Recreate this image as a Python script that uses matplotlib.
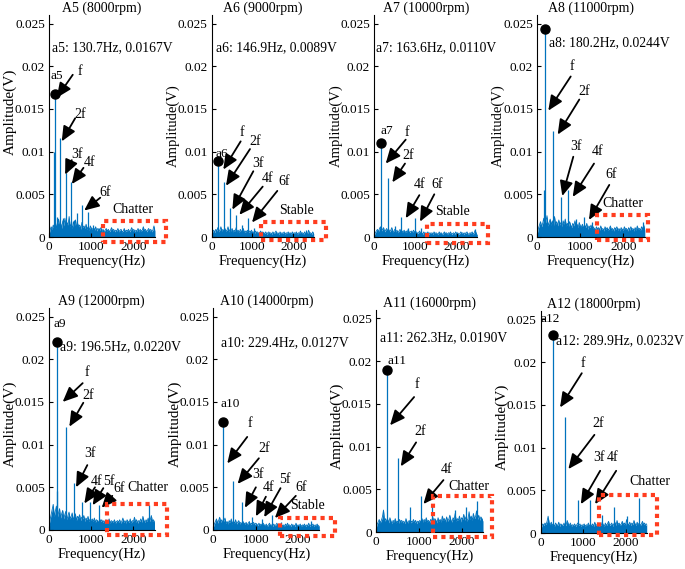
import numpy as np
import matplotlib.pyplot as plt
from matplotlib.patches import Rectangle

plt.rcParams['font.family'] = ['Liberation Serif', 'DejaVu Serif']

BLUE = '#0072BD'
RED = '#FF3D1F'

# panel titles, tooth passing peak and cutting state
titles = ['A5 (8000rpm)', 'A6 (9000rpm)', 'A7 (10000rpm)', 'A8 (11000rpm)',
          'A9 (12000rpm)', 'A10 (14000rpm)', 'A11 (16000rpm)', 'A12 (18000rpm)']
tags = ['a5', 'a6', 'a7', 'a8', 'a9', 'a10', 'a11', 'a12']
peak_hz = [130.7, 146.9, 163.6, 180.2, 196.5, 229.4, 262.3, 289.9]
peak_v = [0.0167, 0.0089, 0.0110, 0.0244, 0.0220, 0.0127, 0.0190, 0.0232]
states = ['Chatter', 'Stable', 'Stable', 'Chatter',
          'Chatter', 'Stable', 'Chatter', 'Chatter']

# other spectral lines (Hz, V)
lines_a5 = [(118, 0.0100), (261, 0.0116), (392, 0.0075), (523, 0.0065), (654, 0.0028),
            (784, 0.0037), (915, 0.0029), (200, 0.0024), (330, 0.0022), (590, 0.0020),
            (1046, 0.0014), (1177, 0.0011)]
lines_a6 = [(294, 0.0065), (441, 0.0034), (588, 0.0026), (735, 0.0014), (881, 0.0022),
            (1028, 0.0010), (2300, 0.0008)]
lines_a7 = [(327, 0.0069), (491, 0.0013), (654, 0.0024), (818, 0.0011), (981, 0.0022),
            (1145, 0.0010), (2454, 0.0009)]
lines_a8 = [(160, 0.0055), (360, 0.0124), (541, 0.0047), (721, 0.0055), (901, 0.0021),
            (1081, 0.0023), (1261, 0.0018), (2450, 0.0017)]
lines_a9 = [(180, 0.0046), (393, 0.0121), (590, 0.0055), (786, 0.0033), (982, 0.0033),
            (1179, 0.0029), (2358, 0.0029)]
lines_a10 = [(459, 0.0057), (688, 0.0033), (918, 0.0015), (1147, 0.0013), (1376, 0.0018),
             (1606, 0.0009), (2294, 0.0010)]
lines_a11 = [(524.6, 0.0087), (787, 0.0030), (1049, 0.0042), (1311, 0.0032), (1836, 0.0026),
             (2098, 0.0030), (2360, 0.0037)]
lines_a12 = [(580, 0.0136), (870, 0.0039), (1160, 0.0039), (1450, 0.0021), (1739, 0.0031),
             (2029, 0.0020), (2319, 0.0041)]

# broadband background, units of 1e-4 V, evenly spaced over 0-2500 Hz
noise_a5 = [3, 8, 12, 9, 14, 11, 18, 10, 15, 21, 12, 16, 10, 19, 13, 22, 11, 17, 14, 24, 12,
            15, 10, 18, 13, 20, 11, 16, 12, 14, 9, 17, 11, 13, 10, 15, 9, 12, 8, 13, 10,
            9, 11, 8, 12, 7, 10, 9, 8, 11, 7, 9, 6, 8, 10, 7, 9, 6, 8, 11, 7, 9, 6, 8, 7,
            10, 6, 8, 9, 6, 7, 10, 6, 8, 7, 9, 6, 8, 11, 7, 9, 6, 8, 7, 10, 6, 9, 7, 8, 12,
            7, 9, 6, 8, 10, 7, 9, 6, 8, 13, 7]
noise_a6 = [2, 6, 8, 5, 9, 7, 11, 6, 8, 12, 7, 9, 6, 10, 7, 8, 12, 6, 9, 7, 10, 6, 8, 7, 11,
            6, 8, 5, 9, 7, 6, 10, 5, 7, 6, 8, 5, 7, 6, 8, 5,
            6, 4, 7, 5, 6, 4, 5, 7, 4, 6, 5, 4, 6, 3, 5, 6, 4, 5, 3, 6, 4, 5, 7, 4, 5, 3, 6,
            4, 5, 4, 6, 3, 5, 4, 6, 4, 5, 3, 6, 4, 5, 4, 6, 3, 5, 4, 7, 4, 5, 3, 6, 4, 5, 4,
            8, 4, 5, 3, 6, 4]
noise_a7 = [2, 5, 7, 9, 6, 10, 12, 7, 9, 11, 6, 8, 10, 7, 9, 6, 8, 11, 6, 7, 9, 6, 8, 5, 7,
            9, 5, 7, 6, 8, 5, 7, 6, 9, 5, 6, 7, 5, 8, 6, 5,
            6, 4, 5, 7, 4, 5, 3, 6, 4, 5, 4, 6, 3, 5, 4, 5, 3, 6, 4, 5, 4, 3, 6, 4, 5, 3, 4,
            6, 4, 5, 3, 5, 4, 6, 3, 4, 5, 3, 6, 4, 5, 3, 4, 6, 4, 5, 3, 5, 4, 6, 3, 4, 5, 4,
            6, 3, 5, 8, 4, 3]
noise_a8 = [4, 10, 14, 18, 12, 16, 22, 14, 18, 25, 13, 17, 21, 14, 19, 12, 24, 15, 18, 13,
            20, 14, 17, 12, 19, 15, 21, 13, 16, 12, 18, 14, 11, 16, 13, 19, 12, 15, 11, 17, 13,
            12, 15, 10, 14, 11, 16, 9, 13, 11, 14, 9, 12, 10, 8, 12, 9, 11, 8, 13, 9, 10, 7,
            12, 9, 11, 8, 10, 13, 8, 10, 7, 11, 9, 12, 8, 10, 7, 11, 9, 8, 12, 9, 10, 7, 11,
            8, 12, 9, 10, 7, 11, 8, 13, 9, 10, 8, 12, 9, 14, 8]
noise_a9 = [5, 12, 18, 24, 30, 16, 22, 28, 15, 20, 25, 14, 19, 23, 13, 18, 22, 12, 17, 21,
            13, 16, 20, 12, 15, 19, 11, 16, 14, 18, 11, 15, 13, 17, 10, 14, 12, 16, 10, 13, 11,
            13, 10, 14, 9, 12, 11, 8, 13, 10, 12, 9, 11, 8, 12, 10, 9, 13, 8, 11, 10, 9, 12,
            8, 10, 11, 9, 12, 8, 10, 14, 9, 11, 8, 12, 10, 9, 13, 8, 11, 10, 15, 9, 12, 8, 11,
            10, 13, 9, 16, 11, 9, 12, 10, 14, 9, 12, 17, 10, 12, 9]
noise_a10 = [3, 7, 10, 13, 8, 11, 15, 9, 12, 8, 11, 14, 8, 10, 7, 11, 9, 13, 7, 10, 8, 12, 7,
             9, 11, 7, 9, 6, 10, 8, 7, 9, 6, 8, 10, 6, 8, 7, 9, 6, 8,
             7, 5, 8, 6, 7, 5, 8, 6, 5, 7, 4, 6, 8, 5, 6, 4, 7, 5, 6, 8, 5, 6, 4, 7, 5, 6, 4,
             7, 5, 8, 5, 6, 4, 7, 5, 6, 4, 8, 5, 6, 5, 7, 4, 6, 5, 7, 4, 6, 5, 8, 4, 6, 5, 7,
             4, 6, 5, 7, 4, 6]
noise_a11 = [4, 9, 12, 15, 11, 14, 18, 26, 13, 16, 12, 15, 11, 17, 13, 10, 14, 12, 16, 11,
             13, 10, 15, 12, 14, 11, 13, 10, 16, 12, 11, 14, 10, 13, 12, 15, 11, 14, 10, 13, 12,
             14, 11, 16, 12, 15, 13, 17, 12, 14, 11, 15, 13, 18, 12, 16, 14, 11, 17, 13, 15,
             12, 19, 14, 16, 12, 18, 13, 15, 20, 14, 12, 17, 15, 22, 13, 16, 14, 19, 12, 17,
             15, 21, 14, 18, 13, 16, 24, 15, 19, 14, 22, 16, 18, 25, 15, 20, 14, 18, 16, 13]
noise_a12 = [4, 8, 11, 9, 12, 10, 14, 20, 12, 10, 13, 9, 11, 8, 12, 10, 9, 13, 8, 11, 10, 9,
             12, 8, 10, 15, 11, 9, 12, 8, 10, 9, 11, 8, 10, 12, 9, 11, 8, 10, 9,
             11, 8, 10, 9, 12, 8, 10, 9, 11, 8, 13, 9, 10, 12, 8, 11, 9, 13, 10, 8, 12, 9, 11,
             14, 9, 10, 12, 8, 11, 13, 9, 15, 10, 12, 9, 11, 14, 10, 12, 9, 16, 11, 10, 13, 9,
             12, 10, 15, 11, 9, 13, 10, 12, 9, 11, 14, 10, 12, 9, 11]

lines_all = [lines_a5, lines_a6, lines_a7, lines_a8, lines_a9, lines_a10, lines_a11, lines_a12]
noise_all = [noise_a5, noise_a6, noise_a7, noise_a8, noise_a9, noise_a10, noise_a11, noise_a12]

# axes boxes in pixels: left, bottom (from top), width, height
boxes = [(49, 237, 106, 222), (211.7, 237, 102, 222), (374.3, 237, 103, 222),
         (537.3, 237, 107.5, 222), (49, 530, 105.5, 222), (213.3, 530, 106, 222),
         (376, 532.3, 107, 222.6), (540.7, 533.3, 106, 222.6)]
# y label size and position (axes fraction)
ylab_size = [11, 10.5, 10.5, 10.5, 11, 11, 11, 11]
ylab_x = [-0.305, -0.31, -0.31, -0.30, -0.305, -0.30, -0.30, -0.30]
ylab_y = [0.563, 0.5, 0.5, 0.5, 0.477, 0.477, 0.477, 0.477]

# annotation layout per panel, in data coords
tag_pos = [(180, 0.0189), (245, 0.0097), (300, 0.0124), None,
           (244, 0.0241), (409, 0.0147), (492, 0.0200), (220, 0.0250)]
info_pos = [(70, 0.0222), (105, 0.0222), (41, 0.0222), (279, 0.0227),
            (260, 0.0215), (174, 0.0219), (94, 0.0227), (350, 0.0225)]
state_pos = [(1970, 0.0032), (2083, 0.0031), (1902, 0.0030), (1986, 0.0039),
             (2353, 0.0050), (2221, 0.0029), (2162, 0.0053), (2584, 0.0060)]
red_box = [(1280, 2750, -0.0006, 0.0019), (1201, 2800, -0.0004, 0.0018),
           (1286, 2767, -0.0007, 0.0015), (1395, 2581, -0.0003, 0.0026),
           (1382, 2803, -0.0006, 0.0031), (1569, 2863, -0.0007, 0.0014),
           (1342, 2709, -0.0005, 0.0042), (1385, 2742, -0.0002, 0.0045)]
arrows = [
    [('f', (735, 0.0194), (560, 0.0190), (182, 0.0163)),
     ('2f', (735, 0.0143), (616, 0.0139), (300, 0.0112)),
     ('3f', (656, 0.0097), (537, 0.0090), (380, 0.0073)),
     ('4f', (955, 0.0087), (813, 0.0081), (537, 0.0062)),
     ('6f', (1327, 0.0052), (1209, 0.0046), (830, 0.0031))],
    [('f', (735, 0.0122), (710, 0.0112), (285, 0.0079)),
     ('2f', (1061, 0.0112), (939, 0.0103), (350, 0.0060)),
     ('3f', (1143, 0.0086), (1020, 0.0077), (506, 0.0032)),
     ('4f', (1372, 0.0068), (1250, 0.0059), (678, 0.0026)),
     ('6f', (1780, 0.0065), (1608, 0.0054), (988, 0.0017))],
    [('f', (786, 0.0122), (762, 0.0114), (277, 0.0086)),
     ('2f', (826, 0.0096), (745, 0.0086), (437, 0.0064)),
     ('4f', (1109, 0.0061), (1093, 0.0049), (762, 0.0022)),
     ('6f', (1514, 0.0061), (1456, 0.0050), (1109, 0.0018))],
    [('f', (800, 0.0200), (777, 0.0188), (256, 0.0148)),
     ('2f', (1086, 0.0170), (977, 0.0161), (474, 0.0120)),
     ('3f', (900, 0.0106), (837, 0.0094), (581, 0.0048)),
     ('4f', (1395, 0.0100), (1319, 0.0086), (823, 0.0047)),
     ('6f', (1707, 0.0073), (1674, 0.0061), (1202, 0.0020))],
    [('f', (908, 0.0184), (798, 0.0172), (324, 0.0150)),
     ('2f', (932, 0.0158), (813, 0.0149), (482, 0.0121)),
     ('3f', (972, 0.0090), (908, 0.0076), (640, 0.0050)),
     ('4f', (1120, 0.0057), (1090, 0.0050), (837, 0.0031)),
     ('5f', (1420, 0.0057), (1287, 0.0049), (1035, 0.0029)),
     ('6f', (1660, 0.0049), (1500, 0.0040), (1249, 0.0026))],
    [('f', (864, 0.0125), (800, 0.0109), (329, 0.0078)),
     ('2f', (1193, 0.0096), (1075, 0.0084), (574, 0.0054)),
     ('3f', (1059, 0.0065), (1004, 0.0050), (746, 0.0026)),
     ('4f', (1294, 0.0050), (1240, 0.0039), (1004, 0.0016)),
     ('5f', (1687, 0.0059), (1585, 0.0049), (1200, 0.0015)),
     ('6f', (2080, 0.0050), (1946, 0.0040), (1452, 0.0014))],
    [('f', (953, 0.0173), (890, 0.0158), (328, 0.0125)),
     ('2f', (1030, 0.0118), (937, 0.0105), (578, 0.0077)),
     ('4f', (1655, 0.0073), (1576, 0.0061), (1108, 0.0033))],
    [('f', (993, 0.0198), (969, 0.0187), (456, 0.0147)),
     ('2f', (1362, 0.0128), (1267, 0.0115), (652, 0.0075)),
     ('3f', (1386, 0.0088), (1402, 0.0073), (946, 0.0034)),
     ('4f', (1702, 0.0088), (1780, 0.0073), (1283, 0.0034))],
]

W, H = 685, 569
fig = plt.figure(figsize=(W / 100, H / 100), dpi=100)

for i in range(8):
    left, bottom, width, height = boxes[i]
    ax = fig.add_axes([left / W, 1 - bottom / H, width / W, height / H])

    # background spectrum
    noise = np.array(noise_all[i]) * 1e-4
    freq = np.linspace(0, 2500, len(noise))
    ax.fill_between(freq, 0, noise, color=BLUE, lw=0)
    ax.plot(freq, noise, color=BLUE, lw=0.6)

    # discrete lines
    lf = [p[0] for p in lines_all[i]] + [peak_hz[i]]
    lv = [p[1] for p in lines_all[i]] + [peak_v[i]]
    ax.vlines(lf, 0, lv, color=BLUE, lw=0.9)
    ax.plot(peak_hz[i], peak_v[i], 'o', color='k', ms=6.5, clip_on=False, zorder=5)

    ax.set_xlim(0, 2500)
    ax.set_ylim(0, 0.026)
    ax.set_xticks([0, 1000, 2000])
    ax.set_yticks([0, 0.005, 0.01, 0.015, 0.02, 0.025])
    ax.set_yticklabels(['0', '0.005', '0.01', '0.015', '0.02', '0.025'])
    ax.tick_params(direction='in', length=3, width=0.8, labelsize=9.5, pad=3)
    for s in ['top', 'right']:
        ax.spines[s].set_visible(False)
    for s in ['left', 'bottom']:
        ax.spines[s].set_linewidth(0.8)

    ax.set_title(titles[i], fontsize=10, pad=2)
    ax.set_xlabel('Frequency(Hz)', fontsize=10.5, labelpad=1)
    ax.set_ylabel('Amplitude(V)', fontsize=ylab_size[i])
    ax.yaxis.set_label_coords(ylab_x[i], ylab_y[i])

    if tag_pos[i] is not None:
        ax.text(*tag_pos[i], tags[i], fontsize=9.5, ha='center', va='center')
    ax.text(*info_pos[i], '%s: %.1fHz, %.4fV' % (tags[i], peak_hz[i], peak_v[i]),
            fontsize=9.8, ha='left', va='center', clip_on=False)
    ax.text(*state_pos[i], states[i], fontsize=10, ha='center', va='center')

    for lab, txy, tail, tip in arrows[i]:
        ax.text(*txy, lab, fontsize=10, ha='center', va='center')
        ax.annotate('', xy=tip, xytext=tail, annotation_clip=False,
                    arrowprops=dict(arrowstyle='-|>,head_length=0.9,head_width=0.4',
                                    color='k', lw=1.3, shrinkA=0, shrinkB=0,
                                    mutation_scale=10))

    x0, x1, y0, y1 = red_box[i]
    ax.add_patch(Rectangle((x0, y0), x1 - x0, y1 - y0, fill=False, ec=RED, lw=3,
                           ls=(0, (1, 1)), clip_on=False, zorder=6))

fig.savefig('out.png', dpi=100)
